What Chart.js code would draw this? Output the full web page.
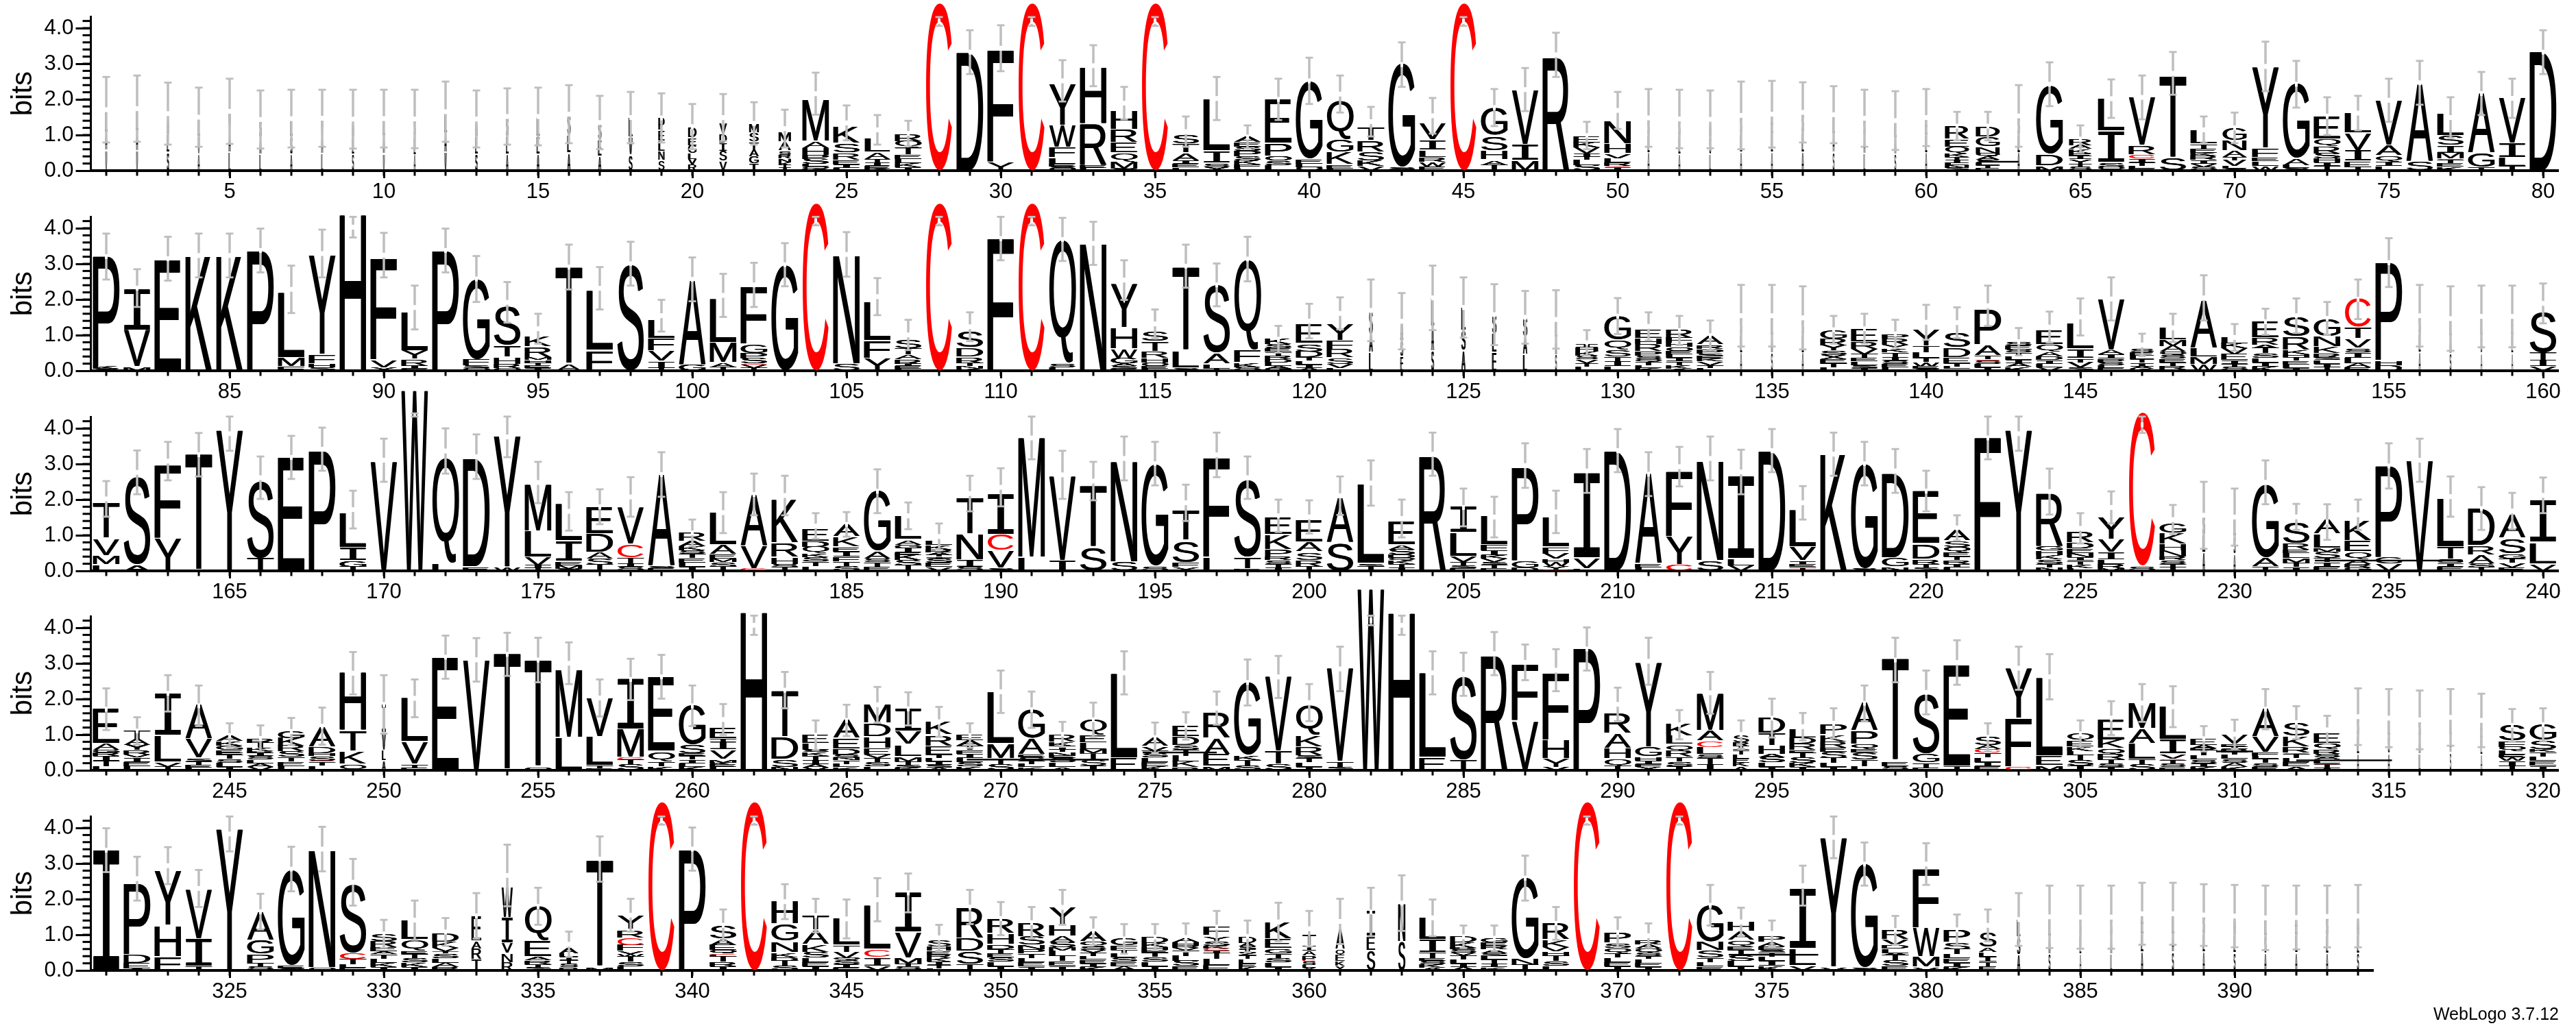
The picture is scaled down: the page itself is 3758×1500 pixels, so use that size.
<!DOCTYPE html>
<html><head><meta charset="utf-8">
<style>html,body{margin:0;padding:0;background:#fff;width:3758px;height:1500px;overflow:hidden;position:relative}canvas{position:absolute;left:0}</style>
<script src="https://cdn.jsdelivr.net/npm/chart.js@4"></script>
</head><body>
<script>
// Stacks are written top to bottom: letter followed by its height in bits.
const stacks1=['L.6A.5V.56','L.62A.55V.55','A.6L.5S.5','L.55V.5A.45','V.6A.55L.5','S.5A.48L.45','L.5S.5A.45','V.5A.5L.47','A.5L.48S.45','L.5A.5V.46',
'S.5L.5A.44','L.6A.55V.5','A.5L.5S.45','S.55L.5A.45','L.55E.5A.45','S.6L.5A.48','S.5E.45A.4','L.55V.5S.43','P.35E.3L.3N.25S.27','D.3E.2G.25L.15V.15R.17',
'V.32D.25I.2S.3V.26','M.25S.25T.2A.2G.2I.2','M.28A.25S.1R.1N.1K.08T.07I.09','M1.15A.17H.19P.12S.14L.08Q.06K.05','K.48S.27R.18E.12I.1L.08','L.4A.17T.12I.08E.07K.06','R.2Q.18T.2E.12L.12K.11I.1','C4.7','D3.31','F3.14Y.24',
'C4.7','Y1.17W.61F.29L.15E.08S.06Q.06','H1.59R1.17E.08L.07','H.53R.37E.3Q.23M.19S.06','C4.7','S.27T.26A.19I.1E.1L.09','L1.46I.34S.1X.1','A.15E.13S.12P.14S.12K.12F.1L.07','E1.24P.35O.12S.13L.15','G2.18E.12L.1O.1',
'Q1.1G.35K.34E.1L.06','T.39R.32S.22K.14V.14','G2.92S.05L.03','V.48I.29L.18R.13W.13E.12','C4.7','G.8S.42H.26A.13T.16','V1.54I.45M.27','R3.22','E.17K.14V.17I.09T.09L.15S.15','N.65H.27V.13L.11R.1C.02I.11',
'S.5L.5A.49','S.5L.5A.45','A.5S.5L.44','S.55L.5A.5','E.55L.53A.5','S.6L.53A.5','L.55A.52S.5','S.5A.5L.47','L.5A.46S.45','E.5L.5A.49',
'R.38E.2Q.19K.1T.08I.08L.07N.07S.08','D.31G.29N.16Q.08A.1S.08L.08T.08E.07','S.55L.5A.49','G1.92D.32M.12','R.16A.11K.13E.08I.08Y.12T.1S.1','L.92I.88S.12Q.1','V1.35R.26C.1I.1T.1L.08E.06','T2.31S.35','L.4T.13E.11K.08R.12I.1V.1S.1','G.35N.29A.16T.09V.16L.07S.06',
'Y2.27F.26E.1L.12W.14','G2.1A.16L.09S.07','E.65Q.2R.19S.14H.11I.1T.14','L.56V.5I.3E.15T.1','V1.27A.29Q.16I.12L.13','A2.18S.24','L.63S.28I.19M.16C.03T.1E.1K.11','A1.68G.4T.08','V1.28I.4L.22T.13','D3.33'];
const errHi1=[2.63,2.67,2.47,2.33,2.58,2.25,2.27,2.27,2.27,2.27,2.27,2.5,2.25,2.31,2.33,2.4,2.1,2.21,2.17,1.87,2.15,1.92,1.71,2.75,1.83,1.56,1.4,4.31,3.94,4.08,4.31,3.1,3.52,2.35,4.31,1.52,2.63,1.27,2.58,3.17,2.67,1.79,3.6,2.04,4.31,2.29,2.88,3.87,1.37,2.21,2.29,2.27,2.25,2.5,2.52,2.48,2.37,2.27,2.23,2.29,1.65,1.65,2.4,3.04,1.27,2.56,2.67,3.33,1.52,1.63,3.62,3.08,2.06,2.1,2.58,3.08,2.06,2.77,2.58,3.94];
const errLo1=[.79,.81,.73,.67,.75,.62,.65,.67,.62,.65,.63,.81,.65,.73,.71,.77,.6,.77,.79,.6,.83,.73,.65,1.57,.85,.73,.69,4.06,2.71,2.79,4.06,1.94,2.37,1.44,4.06,.67,1.42,.62,1.42,1.87,1.63,.96,2.35,1.04,4.06,1.25,1.67,2.63,.6,1.17,.67,.63,.63,.6,.65,.79,.77,.67,.58,.69,.85,.85,.67,1.81,.5,1.48,1.44,2.13,.77,.77,2.23,1.77,1,1.13,1.37,1.85,.92,1.56,1.48,2.71];
const widths1=[.05,.05,.06,.05,.06,.06,.06,.05,.05,.05,.04,.07,.07,.07,.08,.1,.1,.12,.22,.3,.27,.35,.45,1,1,.95,1,1,1,1,1,1,1,1,1,1,1,1,1,1,1,1,1,1,1,1,1,1,1,1,.04,.04,.04,.04,.04,.05,.04,.04,.04,.04,.9,.9,.05,1,.85,1,1,1,1,.9,1,1,1,1,1,1,1,1,1,1];
const strays1=[[61.7,63,.25]];

const stacks2=['P3.1K.06S.05','I1.16V1.03M.1','E3.12','K3.2','K3.2','P3.35','L1.83M.22F.13','Y2.8F.26H.1S.09','H4.37','F2.85V.19Y.1',
'L1.09Y.24R.17I.08E.06','P3.36','G2.25F.16S.08Q.07','S1.11T.34H.17R.13Q.07','K.31R.31M.06H.08T.07E.08I.07','T2.72A.17','L1.68F.56','S3','L.52F.36V.29I.17T.08','A2.36G.15',
'L1.24M.56A.12T.1','F1.6G.23P.15S.14C.03V.1T.08','G2.96','C4.7','N3.03S.18','L1.09F.49Y.34','S.23T.18A.13R.12I.07E.07L.06','C4.7','S.47D.26R.15T.09N.07K.06','F3.7',
'C4.7','Q3.46S.1L.1','N3.55','Y1.24H.6W.26G.14A.06S.08E.06','S.29T.29R.17H.13O.1E.07L.06','T2.35L.47S.06','S1.94A.3L.12T.06','Q2.54F.35K.12S.1','K.15S.12E.1T.1R.1D.1L.1A.07G.06','E.55S.21D.16T.1L.1I.1A.08',
'Y.48F.22R.26S.16V.12L.07','S.7A.5L.5','A.55S.45E.39','L.8A.7S.54','L.65S.58A.55','S.55L.52E.5','S.55A.5L.45','L.5A.5S.44','I.1H.12K.12S.1V.1T.1L.12','G.68Q.27S.18T.13I.13L.14',
'E.26H.15R.19P.13S.1Q.07T.1L.08K.08','R.22F.14H.11O.11E.1L.1I.1T.1K.1A.06','A.26R.1P.13S.08E.07K.08V.1T.08L.08','S.55L.5A.49','L.55A.5S.49','S.5L.5A.49','G.22R.19Y.15S.12X.12E.12T.11L.1','E.38R.19V.14T.11E.1L.1S.08I.08','P.13R.16Y.13K.1T.12I.1S.1E.09L.1','Y.46T.16L.15T.13W.12E.06S.06',
'S.44D.28E.15T.1L.06I.05','P1A.3T.1C.03S.1L.1I.09','S.11E.11S.09T.1L.1I.1A.1K.11','E.41Q.18A.13D.1I.1L.1V.1','L.71I.27T.1V.14S.09','V1.44A.11I.12P.1S.09L.08E.07','S.1E.1L.1T.1I.1A.06K.06','L.35M.16A.16Q.09S.1E.1T.1R.1I.04','A1.33L.25M.19W.19','L.16K.14V.17E.16I.1T.1S.1',
'E.46R.19A.1T.14S.13L.12I.12K.12','S.58R.38K.11H.08T.1E.1L.1I.08','G.52N.29K.16R.13S.07L.1I.1T.1','C.81T.32V.26S.1I.15L.15A.12E.1','P2.75H.13D.15','S.55L.5A.5','L.5A.5S.47','L.55S.5A.48','E.55L.5A.48','S1.17T.21I.16V.13'];
const errHi2=[3.85,2.85,3.76,3.85,3.85,3.99,2.95,3.96,4.32,3.87,2.39,3.99,3.22,2.49,1.6,3.54,2.91,3.62,1.99,3.18,2.72,3.03,3.58,4.32,3.89,2.6,1.43,4.32,1.64,4.32,4.32,4.29,4.18,3.1,1.72,3.54,3.01,3.76,1.26,1.88,2.06,2.56,2.18,2.95,2.62,2.43,2.24,2.26,1.14,2.04,1.64,1.54,1.41,2.41,2.41,2.37,1.54,1.6,1.43,1.85,1.78,2.39,1.2,1.66,2.03,2.62,1.04,1.6,2.68,1.31,1.74,2.03,1.93,2.56,3.72,2.41,2.37,2.39,2.39,2.45];
const errLo2=[2.56,1.79,2.53,2.62,2.62,2.76,1.62,2.62,3.74,2.62,1.16,2.76,1.93,1.35,.76,2.28,1.72,2.39,1.1,1.95,1.51,1.79,2.37,4.08,2.64,1.56,.58,4.08,.83,3.1,4.08,3.08,2.97,1.99,.91,2.33,1.81,2.51,.51,.91,1.16,.83,.6,1.14,.93,.72,.76,.62,.43,1.03,.85,.72,.56,.68,.68,.6,.76,.76,.64,.87,.92,1.26,.43,.79,.99,1.41,.41,.81,1.41,.56,1.01,1.06,1.01,1.45,2.35,.68,.56,.66,.66,1.33];
const widths2=[1,1,1,1,1,1,1,1,1,1,1,1,1,1,1,1,1,1,1,1,1,1,1,1,1,1,1,1,1,1,1,1,1,1,1,1,1,1,1,1,1,.12,.08,.08,.14,.14,.14,.04,.85,1,1,1,1,.04,.04,.04,1,1,1,1,1,1,1,1,1,1,.9,1,1,1,1,1,1,1,1,.04,.04,.03,.03,1];
const strays2=[];

const stacks3=['T1V.48M.25L.16','S2.5A.16','F2.06Y.92','T3.26','Y3.94','S2.18T.35','E3.18','P3.36','L.96I.38G.15T.12','V3.06',
'W5.06','Q2.95L.2','D3.03E.1','Y3.68W.1','M1.3L.74V.21I.09T.07','L1.03I.58E.1M.1S.06','E.77D.53A.16S.17T.17','V1.04C.38T.16I.08S.11','A2.58S.05E.07','R.22A.15K.13S.1T.11E.12L.12I.12',
'L.91A.27E.11M.09S.13T.12','A1.43V.65C.05','K1.22R.4H.18S.1T.1','E.34D.14Q.19K.1S.13T.13L.13','A.35K.28E.13I.14F.13T.13S.14','G1.7A.19S.1T.13E.12','L.67A.13G.1I.13E.06K.15S.15T.15','L.13K.13R.08A.07T.05I.05S.12E.12V.11','T1.03N.72I.19S.11','I1.14C.45V.49S.06',
'M3.36L.37','V2.38I.28','T1.74S.65','N2.82S.24','G2.88S.12','T.85S.63F.11Y.11','F2.8L.37','S2.18T.33E.05','E.49K.42P.19R.1S.1T.1I.1','E.63A.28S.24R.16T.12',
'A1.26S.78','L2.22S.08T.12','E.68A.11S.14D.1Q.07K.1T.1I.09','R3.27','I.74L.66V.15T.1S.08E.07','L.81F.14I.13K.09V.1S.08T.09E.08','P2.62G.17D.1','L.83F.18V.15H.1W.11Y.1C.03','I2.39V.3L.05','D3.37',
'A2.53E.1L.1','F1.84Y.79C.16','N2.78S.27','I2.32L.18V.15','D3.37','L1.05V.4I.1E.06C.03T.08','K3.27','G2.95S.05','D2.36G.26N.1','E1.47D.43R.13T.1S.09',
'A.33S.16Q.14E.13T.1R.1I.1L.1','F3.73','Y3.94','R1.5G.12H.13K.12S.12T.1N.1','R.34D.15E.13N.12I.1T.1K.1L.08','Y.62V.37I.18L.13R.12M.08','C4.33S.12','G.29K.32H.16N.17R.1S.1T.1T.1','S.55L.5A.51','L.55S.5A.46',
'G2.06A.24T.1','S.62R.16E.09L.14M.13T.12I.11','A.43L.4M.1S.17T.12I.12E.12','K.56E.32Q.2A.13R.1G.09','P2.56G.17V.2','V3.1','L1.36T.35S.1I.1E.12','D1.03R.26A.22S.12T.1','A.67S.44G.13T.12V.12E.1','I1.18L.6V.19'];
const errHi3=[2.52,3.38,3.62,3.87,4.33,3.21,3.79,4.02,2.25,3.71,4.42,4,3.83,4.33,3.06,2.21,2.29,2.63,3.33,1.44,2.21,2.73,2.67,1.62,1.65,2.85,1.92,1.33,2.67,2.88,4.33,3.37,3.06,3.77,3.62,2.42,3.88,3.21,2,1.98,2.65,3.1,2,3.88,2.31,2.08,3.58,2.25,3.42,3.98,3.33,3.48,3.77,3.4,3.98,2.38,3.88,3.62,3.42,2.81,1.56,4.33,4.33,2.87,1.62,2.23,4.33,1.85,2.5,2.31,3.1,1.88,1.87,2,3.58,3.71,2.65,2.35,2.19,2.62];
const errLo3=[1.52,2.15,2.54,2.65,3.37,2.02,2.58,2.81,1.19,2.5,4.33,2.73,2.58,3.19,1.9,1.13,1.31,1.52,2.08,.69,1.06,1.56,1.56,.9,.96,1.62,1.17,.6,1.67,1.81,3.13,2.02,1.98,2.54,2.4,1.4,2.63,2.02,1.09,1.05,1.57,1.83,.94,2.67,1.25,.94,2.33,1.06,2.19,2.77,2.1,2.37,2.54,2.15,2.77,1.44,2.67,2.4,2.19,1.67,.85,3.13,3.37,1.58,.77,1.33,3.87,1.03,.62,.71,1.87,1.15,.87,1.15,2.31,2.5,1.52,1.15,1.17,1.62];
const widths3=[1,1,1,1,1,1,1,1,1,1,1,1,1,1,1,1,1,1,1,1,1,1,1,1,1,1,1,1,1,1,1,1,1,1,1,1,1,1,1,1,1,1,1,1,1,1,1,1,1,1,1,1,1,1,1,1,1,1,1,1,1,1,1,1,1,1,1,1,.07,.05,1,1,1,1,1,1,1,1,1,1];
const strays3=[[232.6,237.4,.29]];

const stacks4=['E.99A.16G.08R.09I.14T.14L.12','T.22A.16Y.15R.13V.08I.12E.12L.12','I1.19L.74V.12T.1','A.96V.54S.08T.1E.08L.07','A.15K.13G.12E.08F.06T.11S.11L.11I.1','R.13T.14K.1E.05I.08S.1L.1A.1V.1','G.19K.21R.16S.15T.13E.13L.12','A.56D.17H.08S.13C.03T.1L.14','H1.62T.59K.34Q.17','I.8V.5L.3A.25',
'L1.23V.63T.08E.08','E3.17','V3.1','T3.25','T3Q.08','M1.9L.91','V1.09L.81T.07E.06','I1.41M.79C.05T.15S.15','E2.1Q.29T.12K.11','G1.11S.22E.08T.1I.1L.1K.1',
'E.32T.08I.24V.26M.08K.06E.06L.1','H4.42','T1.31D.62S.19N.1','E.26L.17S.06K.1T.12I.11A.1V.08','A.51E.3D.14S.1N.07T.1L.09K.09','M.53D.38H.32E.16V.1T.12S.12L.11','I.64V.37L.33M.13T.1S.08K.07','K.38R.31E.22T.1L.1I.1S.08A.07','E.14A.14T.13F.1I.12L.12S.12K.11','L1.46M.42T.17S.15',
'G.82A.45E.06S.1T.09L.09K.09','R.2K.13I.11T.06N.1E.06S.13L.13A.09','Q.45E.19L.18M.11C.03T.16S.16I.14','L2.37E.34','A.25V.13T.06S.12L.12E.12K.12','E.32D.22S.13T.17L.16K.16R.09','R.72A.45E.34M.1','G2.05K.13T.15S.13','V2.09T.38S.15','Q.85K.32R.22S.08T.13L.12I.1',
'V2.62T.15S.08','W5.08','H4.4','L2.38E.35','S2.37T.29','R3.27','F1.58V1.37','F1.87H.51Y.22V.1','P3.4','R.58A.43H.29Q.19T.12',
'Y2.37G.28H.1I.08F.08X.1','K.35L.24Q.17R.16T.13S.13I.12','M1.04A.29C.16L.19S.11T.18I.17','S.2R.11I.11T.13L.11E.11K.11A.11','D.45T.35H.21A.1S.14L.13I.1','L.21D.18R.18E.08T.14S.14K.12I.09','P.31K.18R.17E.12S.17T.14L.12I.09','A.78P.38Q.12E.1S.2T.18L.12','T2.87E.12S.11','S1.7G.25T.12E.08',
'E2.85T.1','S.22A.12C.1T.12L.13I.12E.12','Y1.41F1.37C.08','L2.2E.27M.13','Q.21E.15K.13L.12T.14S.14I.14','E.6K.24Q.15R.15T.11S.1I.09','M.72A.43L.44T.15S.15','L.94I.4V.13C.03T.1S.1E.09','E.16A.1R.06T.14L.11S.11I.1K.1','V.27E.06I.06R.1T.06L.12S.11A.11K.1',
'A.78V.45F.09L.08T.11S.11E.1','S.4K.29R.15C.03T.12L.12E.12A.11','E.29Q.14R.13S.11A.06L.1C.03T.1I.07','S.55L.5A.45','L.5S.5A.46','S.5A.47L.45','L.5A.5S.48','E.5L.47A.43','S.46F.14Q.11L.11E.08W.1I.14T.12','G.46S.22K.08T.13L.13E.13I.13'];
const errHi4=[2.3,1.49,2.67,2.38,1.32,1.26,1.47,1.76,3.32,2.67,2.55,3.78,3.71,3.86,3.72,3.59,2.55,3.13,3.24,2.38,1.86,4.34,2.76,1.4,1.84,2.34,2.19,1.78,1.32,2.8,2.21,1.36,1.9,3.34,1.34,1.63,2.21,3.11,3.21,2.42,3.47,4.34,4.34,3.34,3.3,3.88,3.53,3.4,4.01,2.32,3.72,1.69,2.76,1.4,2.01,1.61,1.74,2.38,3.72,2.8,3.65,1.32,3.47,3.26,1.4,1.94,2.42,2.36,1.24,1.42,2.28,1.8,1.53,2.3,2.28,2.24,2.28,2.15,1.72,1.74];
const errLo4=[1.13,.72,1.65,1.24,.63,.53,.71,.72,2.13,1.03,1.49,2.57,2.49,2.65,2.47,2.42,1.51,1.97,2.01,1.24,.99,3.8,1.74,.57,.96,1.34,1.26,.94,.63,1.61,1.19,.66,.94,2.13,.49,.86,1.28,1.82,2.03,1.38,2.22,4.07,3.8,2.13,2.09,2.67,2.53,2.22,2.8,1.38,2.4,.87,1.59,.61,.92,.84,.9,1.38,2.47,1.57,2.4,.53,2.26,1.99,.65,.99,1.36,1.21,.53,.61,1.15,.88,.74,.71,.65,.59,.69,.65,.8,.82];
const widths4=[1,1,1,1,1,1,1,1,1,.12,1,1,1,1,1,1,1,1,1,1,1,1,1,1,1,1,1,1,1,1,1,1,1,1,1,1,1,1,1,1,1,1,1,1,1,1,1,1,1,1,1,1,1,.6,1,1,1,1,1,1,1,1,1,1,1,1,1,1,1,1,1,1,1,.04,.04,.04,.03,.03,1,1];
const strays4=[[268.9,273.5,.3],[274.6,277,.5],[309.4,310.6,.53],[312,315.1,.28]];

const stacks5=['I3.37','P2D.22E.15A.06','Y1.54H.87F.38','V1.38I.78T.1','Y3.96','A.79G.4P.22T.12S.1','G2.69E.07S.06','N3.27Q.07','S1.96C.15T.14L.1E.08','S.2R.16E.12A.08T.13L.12K.11I.1',
'L.54Q.32E.07T.12S.12K.12I.1','D.21K.18V.1T.05S.13L.13A.12R.1','E.7A.19R.32T.3','W.87I.7V.3N.22R.24','Q.98E.44A.1R.1T.1S.08','A.14L.1I.1T.1S.1R.09','T3M.08','Y.39R.24C.19F.16V.08W.08T.14S.13L.12','C4.73','P3.38',
'S.4A.15E.15Q.1C.03L.05T.14R.13I.12','C4.73','H.64G.49N.31K.13D.09T.14S.13','T.42A.4K.2S.15L.13E.12I.12','L.76T.18V.17Q.05S.12I.1E.08','L1.23C.24I.22V.13','I1.12V.72M.14T.1S.1','S.17H.12E.1R.1K.1I.1T.1L.05','R.89D.38S.37T.15','R.42H.31D.12T.12E.12S.12L.12I.12',
'R.4S.22N.13P.11T.13L.12E.12I.11','Y.49H.33A.16S.14M.1L.15T.14E.13I.13','A.3Q.12S.1V.08T.1L.1E.1I.1K.1','G.19F.13T.09L.12S.12E.12A.12','D.16K.11H.08E.08T.12S.13L.13I.12','A.13H.09R.07V.08T.14L.14S.14E.13','F.26Y.13S.13K.08C.06I.07T.17L.16E.16','D.18A.1S.07I.1Z.08T.1L.12E.1K.1','K.48E.27G.13T.13S.13L.12I.1','T.32I.13A.13P.13C.04S.1L.08X.07',
'A.58Q.17E.16K.13Y.13','I.7E.4S.55','N1.06S.8','L.61I.37T.14E.08S.1K.1A.07','D.16K.15E.05S.1V.06T.12L.11I.1A.1','G.12E.1R.1A.1S.08L.11T.11I.1K.09','G2.28N.17T.15','R.48K.19V.13H.13T.14S.13L.13','C4.73','P.31S.13Q.13T.13L.13E.12I.12',
'R.13A.12Q.12S.1T.08L.12E.11I.09','C4.73','G1.04N.24S.19T.13L.12E.11','H.28A.25Q.16E.1T.15S.15L.15I.12','P.14A.13E.1S.06T.12L.13I.13K.13','I1.67L.47V.13','Y3.62V.09','G2.92S.06','R.27V.14D.1L.12A.06T.15S.14E.14','F1.65W.81M.29V.08',
'P.36S.18T.14L.12E.12I.12K.1','S.45A.13L.13I.13T.13E.12','L.5S.5A.43','L.55A.5S.45','S.55L.5A.45','S.55A.5L.45','E.6L.5A.5','L.6A.5S.5','S.55L.5A.5','A.55L.5S.48',
'L.5S.5A.47','E.5L.5A.48','S.55L.5A.47','A.55L.5S.47'];
const errHi5=[3.99,3.19,3.46,2.82,4.32,2.15,3.47,4.03,3.13,1.42,1.96,1.47,2.17,3.53,2.32,1.09,3.76,2.01,4.32,4.01,1.71,4.32,2.42,2.01,1.99,2.59,2.72,1.28,2.26,1.92,1.78,2.26,1.49,1.3,1.3,1.32,1.67,1.4,1.9,1.67,2.01,2.32,2.67,1.99,1.26,1.26,3.22,1.78,4.32,1.49,1.32,4.32,2.4,1.76,1.4,2.94,4.32,3.59,1.53,3.57,1.57,1.71,2.17,2.38,2.38,2.38,2.46,2.46,2.42,2.4,2.38,2.38,2.38,2.4];
const errLo5=[2.76,1.96,2.42,1.78,3.34,1.15,2.22,2.78,1.82,.63,.86,.69,.89,1.8,1.28,.38,2.49,1.09,4.09,2.8,.82,4.09,1.44,1.07,.9,1.38,1.63,.55,1.3,.99,.9,1.28,.72,.47,.57,.53,.76,.51,.82,.67,.74,.96,1.11,.96,.63,.55,1.96,.86,4.09,.65,.63,4.09,1.26,.96,.68,1.82,3.15,2.38,.72,2.4,.71,.82,.69,.63,.61,.61,.72,.72,.69,.65,.57,.59,.65,.65];
const widths5=[1,1,1,1,1,1,1,1,1,1,1,1,.35,.4,1,.7,1,1,1,1,1,1,1,1,1,1,1,.9,1,1,1,1,1,1,1,1,1,.65,1,.5,.33,.3,.25,1,1,1,1,1,1,1,1,1,1,1,1,1,1,1,1,1,1,.65,.1,.05,.03,.04,.06,.05,.05,.05,.05,.05,.05,.05];
const strays5=[[373.6,376.5,.44]];

const rowStart=[1,81,161,241,321];
const allStacks=[stacks1,stacks2,stacks3,stacks4,stacks5];
const allHi=[errHi1,errHi2,errHi3,errHi4,errHi5];
const allLo=[errLo1,errLo2,errLo3,errLo4,errLo5];
const allWidths=[widths1,widths2,widths3,widths4,widths5];
const allStrays=[strays1,strays2,strays3,strays4,strays5];
const baselines=[249.3,541,832.7,1124.4,1416];
const yTicksMajor=[0,1,2,3,4];
const yAxisMax=4.32;
const creditText='WebLogo 3.7.12';
const axisTitle='bits';

const PX_PER_BIT=52, CELL=45, GLYPH_W=38, TOP=300, CAN_H=400, PLOT_L=132.5;
const FONT='100px "Liberation Sans", Arial, sans-serif', FONT_I='100px "Liberation Mono", monospace';
const metricsCache={};
function glyph(ctx,ch,cx,top,bottom,w){
  if(bottom-top<0.3||w<=0)return;
  ctx.font=ch==='I'?FONT_I:FONT;
  const m=metricsCache[ch]||(metricsCache[ch]=ctx.measureText(ch));
  const gw=m.actualBoundingBoxRight+m.actualBoundingBoxLeft, gh=m.actualBoundingBoxAscent+m.actualBoundingBoxDescent;
  const h=bottom-top;
  const dxs=w<8?[-.7,0,.7]:(ch==='C'?[0]:[-.6,.6]);
  const repeat=h<8?2:1;
  ctx.textAlign='left';ctx.textBaseline='alphabetic';
  ctx.fillStyle=ch==='C'?'#ff0000':'#000000';
  for(const dx of dxs)for(let r=0;r<repeat;r++){
    ctx.save();
    ctx.translate(cx-w/2+dx,top);
    ctx.scale(w/gw,h/gh);
    ctx.fillText(ch,m.actualBoundingBoxLeft,m.actualBoundingBoxAscent);
    ctx.restore();
  }
}
const logoPlugin={
  id:'logo',
  beforeDatasetsDraw(chart){
    const ctx=chart.ctx,o=chart.options.plugins.logo;
    chart.data.datasets.forEach((ds,k)=>{
      if(!ds.letters)return;
      const meta=chart.getDatasetMeta(k);
      meta.data.forEach((el,i)=>{
        const ch=ds.letters[i];if(!ch)return;
        const p=el.getProps(['x','y','base'],true);
        const h=p.base-p.y;
        const gap=(k>0&&h>12)?1.6:0;
        glyph(ctx,ch,p.x,p.y,p.base-gap,GLYPH_W*o.widths[i]);
      });
    });
  },
  afterDatasetsDraw(chart){
    const ctx=chart.ctx,o=chart.options.plugins.logo,x=chart.scales.x,y=chart.scales.y;
    ctx.fillStyle='#000';
    o.strays.forEach(s=>{
      const a=x.getPixelForValue(s[0]-o.first),b=x.getPixelForValue(s[1]-o.first);
      ctx.fillRect(a,y.getPixelForValue(s[2])-1.2,b-a,2.4);
    });
    const meta=chart.getDatasetMeta(chart.data.datasets.length-1);
    meta.data.forEach(el=>{
      const p=el.getProps(['x','y','base'],true),mid=(p.y+p.base)/2;
      ctx.fillStyle='#ffffff';ctx.fillRect(p.x-2,mid-3.5,4,7);
      ctx.fillStyle='#bebebe';
      ctx.fillRect(p.x-5.5,p.y-1.4,11,2.8);
      ctx.fillRect(p.x-5.5,p.base-1.4,11,2.8);
    });
    ctx.fillStyle='#000';
    const b=y.getPixelForValue(0);
    x.ticks.forEach((t,i)=>{ctx.fillRect(x.getPixelForTick(i)-1.5,b,3,7.5);});
    for(let n=1;n<=21;n++){ctx.fillRect(PLOT_L-12,y.getPixelForValue(n/5)-1.5,12,3);}
    if(o.credit){ctx.font='25px "Liberation Sans", Arial, sans-serif';ctx.textAlign='right';ctx.textBaseline='alphabetic';ctx.fillStyle='#000';ctx.fillText(o.credit,3733,TOP+1488-1416);}
  }
};
function parseStack(s){const r=[];s.replace(/([A-Z])(\d*\.?\d+)/g,(m,a,b)=>{r.push([a,parseFloat(b)]);return m;});return r.reverse();}
baselines.forEach((bl,row)=>{
  const n=allStacks[row].length, first=rowStart[row];
  const labels=Array.from({length:n},(_,i)=>String(first+i));
  const parsed=allStacks[row].map(parseStack);
  const depth=Math.max(...parsed.map(p=>p.length));
  const datasets=[];
  for(let k=0;k<depth;k++){
    const data=[],letters=[];
    parsed.forEach(p=>{
      if(k<p.length){let lo=0;for(let j=0;j<k;j++)lo+=p[j][1];data.push([lo,lo+p[k][1]]);letters.push(p[k][0]);}
      else{data.push(null);letters.push(null);}
    });
    datasets.push({label:'layer'+k,data,letters,backgroundColor:'rgba(0,0,0,0)',borderWidth:0,grouped:false,clip:false,barThickness:GLYPH_W});
  }
  datasets.push({label:'error',data:allHi[row].map((h,i)=>[allLo[row][i],h]),backgroundColor:'#bebebe',borderWidth:0,grouped:false,clip:false,barThickness:2.8});
  const cv=document.createElement('canvas');
  cv.width=3758;cv.height=CAN_H;cv.style.width='3758px';cv.style.height=CAN_H+'px';cv.style.top=(bl-TOP)+'px';
  document.body.appendChild(cv);
  new Chart(cv.getContext('2d'),{
    type:'bar',
    data:{labels,datasets},
    plugins:[logoPlugin],
    options:{
      responsive:false,animation:false,devicePixelRatio:1,
      layout:{autoPadding:false,padding:{top:TOP-yAxisMax*PX_PER_BIT,right:3758-(PLOT_L+n*CELL),left:0,bottom:0}},
      plugins:{legend:{display:false},tooltip:{enabled:false},
        logo:{widths:allWidths[row],strays:allStrays[row],first,credit:row===4?creditText:null}},
      scales:{
        x:{type:'category',offset:true,afterFit(s){s.height=CAN_H-TOP;},
          border:{display:true,color:'#000',width:4},
          grid:{offset:false,drawOnChartArea:false,drawTicks:true,tickLength:11,tickWidth:3,tickColor:c=>(first+c.index)%5===0?'#000':'rgba(0,0,0,0)'},
          ticks:{autoSkip:false,maxRotation:0,minRotation:0,padding:2,color:'#000',font:{family:'"Liberation Sans"',size:31},
            callback(v,i){const p=first+i;return p%5===0?String(p):'';}}},
        y:{type:'linear',min:0,max:yAxisMax,afterFit(s){s.width=PLOT_L;},
          border:{display:true,color:'#000',width:3},
          grid:{drawOnChartArea:false,drawTicks:true,tickLength:22,tickWidth:3,tickColor:'#000'},
          title:{display:true,text:axisTitle,color:'#000',font:{family:'"Liberation Sans"',size:42},padding:{top:9,bottom:0}},
          afterBuildTicks(s){s.ticks=yTicksMajor.map(v=>({value:v}));},
          ticks:{padding:3,color:'#000',font:{family:'"Liberation Sans"',size:31},callback:v=>Number(v).toFixed(1)}}
      }
    }
  });
});
</script>
</body></html>
